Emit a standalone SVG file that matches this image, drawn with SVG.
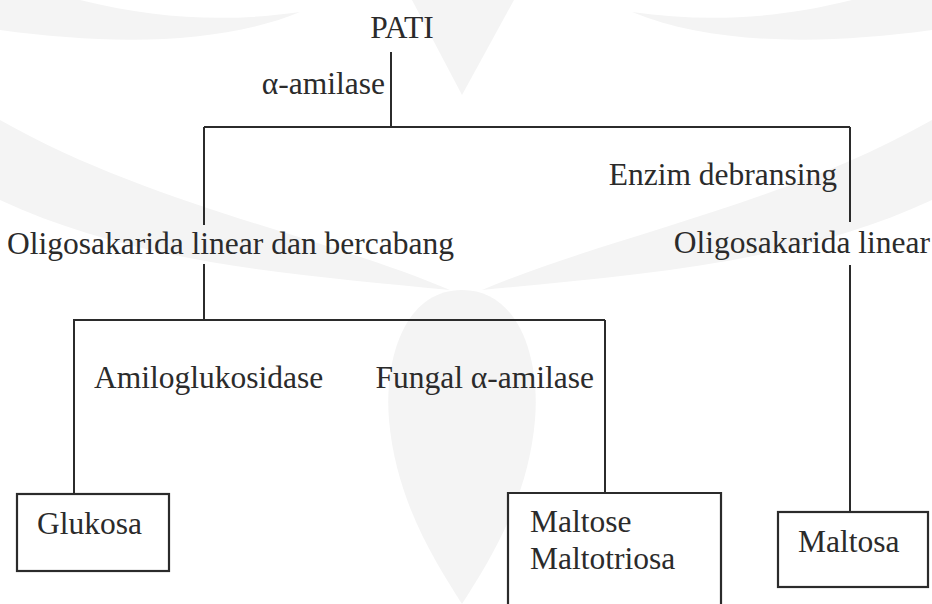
<svg xmlns="http://www.w3.org/2000/svg" width="932" height="604" viewBox="0 0 932 604">
<style>
text{font-family:"Liberation Serif","Times New Roman",serif;font-size:31.5px;fill:#2b2b2b}
.ln{fill:none;stroke:#2b2b2b;stroke-width:2}
.box{fill:#fff;stroke:#2b2b2b;stroke-width:2.2}
.wm{fill:#f4f4f4;stroke:none}
</style>
<rect width="932" height="604" fill="#fff"/>
<g id="watermark">
<path class="wm" d="M412,0 L462,95 L514,0 Z"/>
<path class="wm" d="M0,0 L80,0 C160,20 230,22 300,12 C220,45 110,45 0,30 Z"/>
<path class="wm" d="M932,0 L852,0 C772,20 702,22 632,12 C712,45 822,45 932,30 Z"/>
<path class="wm" d="M0,120 C150,205 320,235 450,290 C300,275 140,265 0,200 Z"/>
<path class="wm" d="M932,120 C782,205 612,235 482,290 C632,275 792,265 932,200 Z"/>
<path class="wm" d="M462,290 C520,290 540,360 535,420 C528,500 490,560 462,604 C434,560 396,500 389,420 C384,360 404,290 462,290 Z"/>
</g>
<g id="connectors" class="ln">
<path d="M391,52 V127"/>
<path d="M204,127 H850"/>
<path d="M204,127 V225 M204,264 V320"/>
<path d="M850,127 V222 M850,265 V512"/>
<path d="M73,320 H605"/>
<path d="M74,320 V494"/>
<path d="M605,320 V493"/>
</g>
<g id="pati"><text x="402" y="38" text-anchor="middle">PATI</text></g>
<g id="label-alpha-amilase"><text x="385" y="94" text-anchor="end">α-amilase</text></g>
<g id="oligo-bercabang"><text x="7" y="254">Oligosakarida linear dan bercabang</text></g>
<g id="label-enzim"><text x="837" y="185" text-anchor="end">Enzim debransing</text></g>
<g id="oligo-linear"><text x="930" y="253" text-anchor="end">Oligosakarida linear</text></g>
<g id="label-amiloglukosidase"><text x="94" y="388">Amiloglukosidase</text></g>
<g id="label-fungal"><text x="594" y="388" text-anchor="end">Fungal α-amilase</text></g>
<g id="glukosa"><rect class="box" x="17" y="494" width="152" height="77"/><text x="37" y="534">Glukosa</text></g>
<g id="maltose"><path class="box" d="M508,604 V493 H721 V604"/><text x="530" y="532">Maltose</text><text x="530" y="569">Maltotriosa</text></g>
<g id="maltosa"><rect class="box" x="778" y="512" width="150" height="75"/><text x="798" y="552">Maltosa</text></g>
</svg>
